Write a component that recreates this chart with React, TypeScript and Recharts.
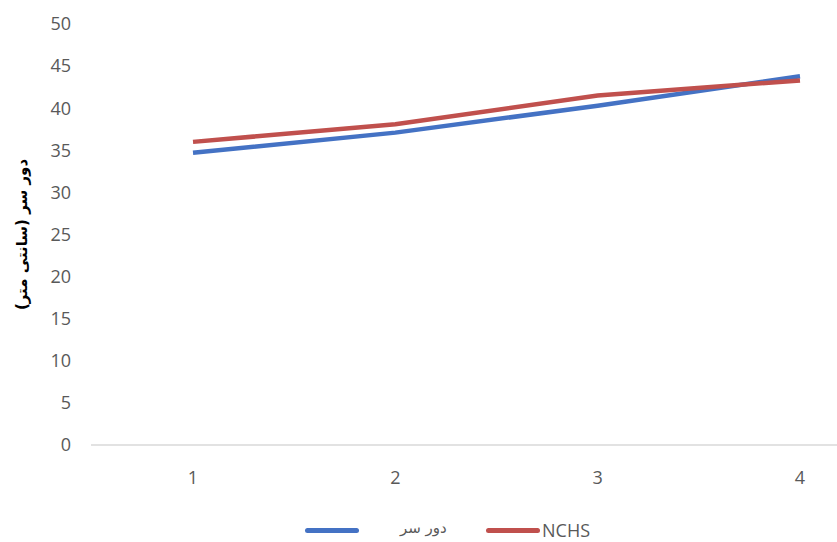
import React from "react";
import { LineChart, Line, XAxis, YAxis, Legend } from "recharts";

const months = ["1", "2", "3", "4"];
const headSize = [34.7, 37.1, 40.3, 43.8];
const nchs = [36.0, 38.1, 41.5, 43.3];
const yTicks = [0, 5, 10, 15, 20, 25, 30, 35, 40, 45, 50];

const data = months.map((m, i) => ({ month: m, head: headSize[i], nchs: nchs[i] }));

const series = [
  { key: "head", name: "دور سر", color: "#4472C4" },
  { key: "nchs", name: "NCHS", color: "#C0504D" },
];

const tickStyle = { fill: "#595959", fontSize: 18, fontFamily: "Open Sans, sans-serif" };

// legend laid out like the Excel original: swatch, gap, text, swatch, text
function LegendBox() {
  const swatch = (color: string, left: number) => (
    <span style={{ position: "absolute", left, top: 9, width: 54, height: 5, borderRadius: 3, background: color }} />
  );
  return (
    <div style={{ position: "relative", height: 24, fontFamily: "Open Sans, sans-serif", fontSize: 18, color: "#595959" }}>
      {swatch(series[0].color, 0)}
      <span style={{ position: "absolute", left: 95, top: 0, fontFamily: "DejaVu Sans, sans-serif", fontSize: 15, whiteSpace: "nowrap" }}>
        {series[0].name}
      </span>
      {swatch(series[1].color, 181)}
      <span style={{ position: "absolute", left: 237, top: -1 }}>{series[1].name}</span>
    </div>
  );
}

export default function App() {
  return (
    <div style={{ position: "absolute", left: 0, top: 0, width: 837, height: 542, background: "#fff" }}>
      <LineChart width={837} height={542} data={data} margin={{ top: 24, right: 0, left: 0, bottom: 43 }}>
        <XAxis
          dataKey="month"
          padding={{ left: 102, right: 37 }}
          axisLine={{ stroke: "#d9d9d9", strokeWidth: 1.5 }}
          tickLine={false}
          tickSize={0}
          tickMargin={26}
          tick={tickStyle}
        />
        <YAxis
          width={91}
          domain={[0, 50]}
          ticks={yTicks}
          interval={0}
          axisLine={false}
          tickLine={false}
          tickSize={0}
          tickMargin={20}
          tick={tickStyle}
          label={{
            value: "دور سر (سانتی متر)",
            angle: -90,
            position: "insideLeft",
            offset: 22,
            textAnchor: "middle",
            style: { fill: "#000", fontWeight: "bold", fontSize: 15, fontFamily: "DejaVu Sans, sans-serif", textAnchor: "middle" },
          }}
        />
        {series.map((s) => (
          <Line
            key={s.key}
            dataKey={s.key}
            name={s.name}
            stroke={s.color}
            strokeWidth={4.5}
            dot={false}
            isAnimationActive={false}
          />
        ))}
        <Legend content={<LegendBox />} wrapperStyle={{ position: "absolute", left: 305, top: 519, width: 320 }} />
      </LineChart>
    </div>
  );
}
